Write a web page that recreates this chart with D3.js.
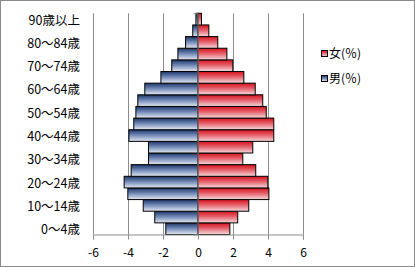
<!DOCTYPE html>
<html>
<head>
<meta charset="utf-8">
<script src="https://cdn.jsdelivr.net/npm/d3@7"></script>
<style>
  body { margin: 0; background: #fff; }
  svg { display: block; font-family: "Noto Sans CJK JP", sans-serif; }
</style>
</head>
<body>
<svg width="415" height="267"></svg>
<script>
var ageGroups = ["0～4歳", "5～9歳", "10～14歳", "15～19歳", "20～24歳", "25～29歳",
  "30～34歳", "35～39歳", "40～44歳", "45～49歳", "50～54歳", "55～59歳",
  "60～64歳", "65～69歳", "70～74歳", "75～79歳", "80～84歳", "85～89歳", "90歳以上"];

// percent of total population
var male = [1.84, 2.47, 3.13, 4.01, 4.22, 3.82, 2.83, 2.83, 3.95, 3.67,
  3.55, 3.44, 3.04, 2.12, 1.5, 1.15, 0.71, 0.3, 0.12];
var female = [1.82, 2.27, 2.9, 4.05, 3.99, 3.3, 2.56, 3.13, 4.33, 4.33,
  3.9, 3.7, 3.27, 2.62, 1.99, 1.65, 1.13, 0.62, 0.2];

var xTicks = [-6, -4, -2, 0, 2, 4, 6];
var legendLabels = ["女(％)", "男(％)"];

var svg = d3.select("svg"),
    width = +svg.attr("width"),
    height = +svg.attr("height");

var x = d3.scaleLinear().domain([-6, 6]).range([93, 303]);
var y = d3.scaleBand().domain(ageGroups.slice().reverse()).range([13.3, 234.5]).padding(0);

var defs = svg.append("defs");
function gradient(id, top, mid, bottom) {
  var g = defs.append("linearGradient").attr("id", id)
      .attr("x1", 0).attr("y1", 0).attr("x2", 0).attr("y2", 1);
  g.append("stop").attr("offset", "0%").attr("stop-color", top);
  g.append("stop").attr("offset", "45%").attr("stop-color", mid);
  g.append("stop").attr("offset", "100%").attr("stop-color", bottom);
}
gradient("gMale", "#1c3468", "#6f86b4", "#e4e9f2");
gradient("gFemale", "#d8101c", "#e4606a", "#f6dadd");

// outer frame
svg.append("rect")
    .attr("x", 0.5).attr("y", 0.5)
    .attr("width", width - 1).attr("height", height - 1)
    .attr("fill", "#fff").attr("stroke", "#8a8a8a");

// grid lines
svg.append("g").selectAll("line")
  .data(xTicks.filter(function(d) { return d !== 0; }))
  .join("line")
    .attr("x1", function(d) { return Math.round(x(d)) + 0.5; })
    .attr("x2", function(d) { return Math.round(x(d)) + 0.5; })
    .attr("y1", y.range()[0]).attr("y2", y.range()[1])
    .attr("stroke", "#8c8c8c");

// bars
var rows = ageGroups.map(function(a, i) { return {age: a, m: male[i], f: female[i]}; });

svg.append("g").selectAll("rect")
  .data(rows)
  .join("rect")
    .attr("x", function(d) { return x(-d.m); })
    .attr("y", function(d) { return y(d.age); })
    .attr("width", function(d) { return x(0) - x(-d.m); })
    .attr("height", y.bandwidth())
    .attr("fill", "url(#gMale)")
    .attr("stroke", "#000").attr("stroke-width", 1);

svg.append("g").selectAll("rect")
  .data(rows)
  .join("rect")
    .attr("x", x(0))
    .attr("y", function(d) { return y(d.age); })
    .attr("width", function(d) { return x(d.f) - x(0); })
    .attr("height", y.bandwidth())
    .attr("fill", "url(#gFemale)")
    .attr("stroke", "#000").attr("stroke-width", 1);

// bottom axis
var xAxis = svg.append("g")
    .attr("transform", "translate(0," + (Math.round(y.range()[1]) - 0.5) + ")")
    .call(d3.axisBottom(x).tickValues(xTicks).tickSize(5).tickPadding(9)
      .tickFormat(function(d) { return d < 0 ? "-" + (-d) : d; }));
xAxis.select(".domain").attr("stroke", "#8c8c8c");
xAxis.selectAll(".tick line").attr("stroke", "#8c8c8c");
xAxis.selectAll(".tick text").attr("font-size", 12).attr("fill", "#000")
    .attr("font-family", "\"Noto Sans CJK JP\", sans-serif");

// category axis at zero
var yAxis = svg.append("g")
    .attr("transform", "translate(" + (Math.round(x(0)) - 0.5) + ",0)")
    .call(d3.axisLeft(y).tickValues([]).tickSizeOuter(4));
yAxis.select(".domain").attr("stroke", "#8c8c8c");

// category labels, every other one
svg.append("g").selectAll("text")
  .data(ageGroups.filter(function(d, i) { return i % 2 === 0; }))
  .join("text")
    .attr("x", 80)
    .attr("y", function(d) { return y(d) + y.bandwidth() / 2 + 1; })
    .attr("dy", "0.36em")
    .attr("text-anchor", "end")
    .attr("font-size", 12.5)
    .text(function(d) { return d; });

// legend
var legend = svg.append("g").selectAll("g")
  .data(legendLabels)
  .join("g")
    .attr("transform", function(d, i) { return "translate(321," + (50 + i * 25) + ")"; });

legend.append("rect")
    .attr("x", 0.5).attr("y", 0.5)
    .attr("width", 6).attr("height", 6)
    .attr("fill", function(d, i) { return i === 0 ? "url(#gFemale)" : "url(#gMale)"; })
    .attr("stroke", "#000");

legend.append("text")
    .attr("x", 8)
    .attr("y", 4)
    .attr("dy", "0.36em")
    .attr("font-size", 12)
    .text(function(d) { return d; });
</script>
</body>
</html>
